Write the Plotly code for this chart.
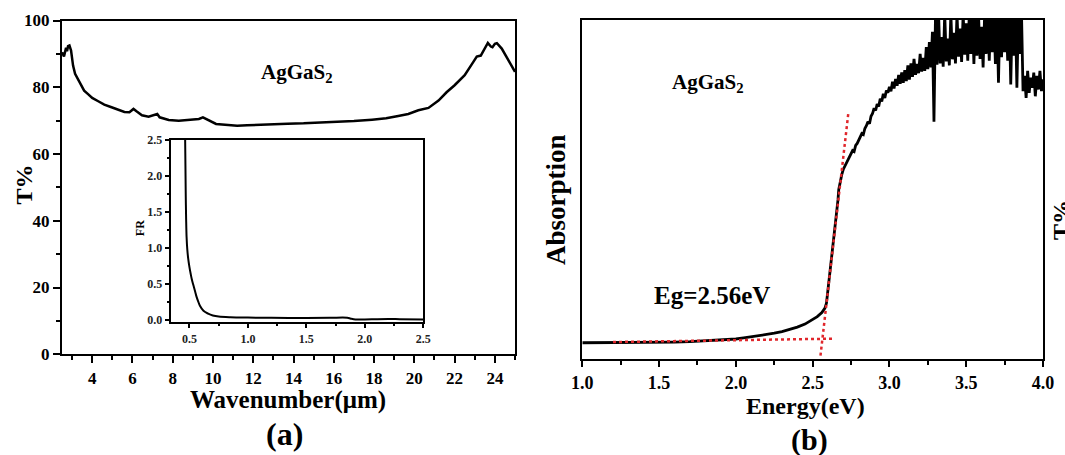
import plotly.graph_objects as go

FONT = "Liberation Serif, Times New Roman, serif"

# ---------------- Panel (a): transmittance ----------------
wavenumber = [2.5, 2.6, 2.7, 2.75, 2.8, 2.87, 2.95, 3.05, 3.15, 3.28, 3.45, 3.6, 3.78, 4.0,
              4.3, 4.6, 4.96, 5.3, 5.6, 5.85, 6.05, 6.2, 6.47, 6.8, 7.0, 7.23, 7.35, 7.8,
              8.3, 8.8, 9.3, 9.5, 9.8, 10.15, 10.6, 11.2, 11.7, 12.3, 13.0, 13.7, 14.5,
              15.3, 16.2, 17.0, 17.9, 18.6, 19.2, 19.7, 20.2, 20.7, 21.2, 21.6, 22.0,
              22.5, 22.93, 23.1, 23.3, 23.5, 23.65, 23.8, 23.88, 24.0, 24.1, 24.34,
              24.59, 24.8, 25.0]
transmittance = [90.5, 89.2, 91.8, 90.8, 92.3, 92.5, 91.0, 86.5, 84.0, 82.5, 80.5, 79.0,
                 78.0, 76.8, 75.8, 74.8, 74.0, 73.2, 72.6, 72.5, 73.5, 72.8, 71.6, 71.2,
                 71.5, 72.0, 71.0, 70.2, 70.0, 70.2, 70.5, 71.0, 70.0, 69.0, 68.8, 68.5,
                 68.6, 68.8, 69.0, 69.1, 69.2, 69.4, 69.6, 69.9, 70.3, 70.7, 71.4, 72.0,
                 73.1, 73.8, 76.0, 78.5, 80.6, 83.6, 87.6, 89.2, 89.5, 91.5, 93.3, 92.2,
                 92.0, 93.0, 93.2, 91.6, 89.1, 87.0, 84.6]

# inset: FR
inset_x = [0.463, 0.465, 0.467, 0.469, 0.472, 0.476, 0.482, 0.49, 0.50, 0.51, 0.52, 0.535,
           0.55, 0.56, 0.575, 0.59, 0.62, 0.66, 0.70, 0.75, 0.85, 1.0, 1.2, 1.5, 1.7, 1.85,
           1.88, 1.92, 2.0, 2.2, 2.3, 2.5]
inset_fr = [2.6, 2.3, 2.0, 1.7, 1.4, 1.15, 0.98, 0.85, 0.74, 0.65, 0.57, 0.48, 0.39, 0.33,
            0.26, 0.2, 0.13, 0.09, 0.065, 0.05, 0.04, 0.035, 0.032, 0.03, 0.032, 0.033,
            0.02, 0.008, 0.01, 0.015, 0.013, 0.01]

# ---------------- Panel (b): absorption ----------------
energy = [1.00, 1.10, 1.20, 1.30, 1.40, 1.50, 1.60, 1.70, 1.80, 1.90, 2.00, 2.05, 2.10,
          2.15, 2.20, 2.25, 2.30, 2.35, 2.40, 2.45, 2.50, 2.53, 2.56, 2.58, 2.59, 2.60,
          2.61, 2.62, 2.63, 2.64, 2.65, 2.66, 2.665, 2.67, 2.68, 2.69,
          2.70, 2.71, 2.72, 2.73, 2.74, 2.75, 2.76, 2.77, 2.78, 2.79,
          2.80, 2.81, 2.82, 2.83, 2.84, 2.85, 2.86, 2.87, 2.88, 2.89,
          2.90, 2.91, 2.92, 2.93, 2.94, 2.95, 2.96, 2.97, 2.98, 2.99,
          3.00, 3.01, 3.02, 3.03, 3.04, 3.05, 3.06, 3.07, 3.08, 3.09,
          3.10, 3.11, 3.12, 3.13, 3.14, 3.15, 3.16, 3.17, 3.18, 3.19,
          3.20, 3.21, 3.22, 3.23, 3.24, 3.25, 3.26, 3.27, 3.28, 3.29,
          3.30, 3.31, 3.32, 3.33, 3.34, 3.35, 3.36, 3.37, 3.38, 3.39,
          3.40, 3.41, 3.42, 3.43, 3.44, 3.45, 3.46, 3.47, 3.48, 3.49,
          3.50, 3.51, 3.52, 3.53, 3.54, 3.55, 3.56, 3.57, 3.58, 3.59,
          3.60, 3.61, 3.62, 3.63, 3.64, 3.65, 3.66, 3.67, 3.68, 3.69,
          3.70, 3.71, 3.72, 3.73, 3.74, 3.75, 3.76, 3.77, 3.78, 3.79,
          3.80, 3.81, 3.82, 3.83, 3.84, 3.85, 3.86, 3.87, 3.88, 3.89,
          3.90, 3.91, 3.92, 3.93, 3.94, 3.95, 3.96, 3.97, 3.98, 3.99, 4.00]
absorption = [0.048, 0.048, 0.048, 0.048, 0.049, 0.049, 0.050, 0.051, 0.053, 0.056, 0.059,
              0.062, 0.065, 0.068, 0.072, 0.076, 0.081, 0.087, 0.094, 0.103, 0.116, 0.125,
              0.137, 0.150, 0.165, 0.203, 0.243, 0.282, 0.322, 0.361, 0.400, 0.440, 0.470,
              0.500, 0.525, 0.545,
              0.560, 0.570, 0.578, 0.590, 0.596, 0.606, 0.615, 0.612, 0.630, 0.636,
              0.645, 0.652, 0.665, 0.662, 0.680, 0.688, 0.700, 0.694, 0.716, 0.724,
              0.740, 0.733, 0.752, 0.745, 0.768, 0.760, 0.782, 0.770, 0.792, 0.786,
              0.803, 0.790, 0.818, 0.798, 0.826, 0.806, 0.838, 0.812, 0.845, 0.815,
              0.852, 0.820, 0.866, 0.824, 0.872, 0.832, 0.885, 0.838, 0.870, 0.843,
              0.900, 0.848, 0.888, 0.850, 0.920, 0.855, 0.935, 0.860, 0.965, 0.700,
              1.020, 0.868, 1.020, 0.872, 0.950, 0.862, 1.020, 0.878, 0.945, 0.866,
              1.020, 0.884, 0.962, 0.872, 1.020, 0.892, 0.975, 0.876, 1.020, 0.898,
              0.990, 0.880, 1.020, 0.900, 1.020, 0.870, 1.020, 0.895, 1.020, 0.885,
              0.980, 0.860, 1.020, 0.900, 1.020, 0.880, 1.020, 0.905, 1.020, 0.870,
              1.020, 0.815, 1.020, 0.890, 1.020, 0.905, 1.020, 0.880, 1.020, 0.810,
              1.020, 0.895, 1.020, 0.800, 1.020, 0.900, 1.020, 0.790, 0.835, 0.770,
              0.850, 0.785, 0.830, 0.800, 0.845, 0.775, 0.835, 0.795, 0.850, 0.790, 0.825]

# red dotted construction lines (baseline and tangent)
baseline_x = [1.2, 2.645]
baseline_y = [0.050, 0.060]
tangent_x = [2.551, 2.733]
tangent_y = [0.010, 0.728]

RED = "#e0262b"

fig = go.Figure()
fig.add_trace(go.Scatter(x=wavenumber, y=transmittance, mode="lines",
                         line=dict(color="black", width=2.5), xaxis="x", yaxis="y"))
fig.add_trace(go.Scatter(x=inset_x, y=inset_fr, mode="lines", line_shape="spline",
                         line=dict(color="black", width=2), xaxis="x3", yaxis="y3"))
fig.add_trace(go.Scatter(x=energy, y=absorption, mode="lines",
                         line=dict(color="black", width=2.8), xaxis="x2", yaxis="y2"))
fig.add_trace(go.Scatter(x=baseline_x, y=baseline_y, mode="lines",
                         line=dict(color=RED, width=2.5, dash="dot"), xaxis="x2", yaxis="y2"))
fig.add_trace(go.Scatter(x=tangent_x, y=tangent_y, mode="lines",
                         line=dict(color=RED, width=2.5, dash="dot"), xaxis="x2", yaxis="y2"))


def axis(**kw):
    base = dict(showline=True, linewidth=2, linecolor="black", mirror=True,
                showgrid=False, zeroline=False, ticks="outside", tickwidth=2,
                tickcolor="black", ticklen=7,
                tickfont=dict(family=FONT, size=17, color="black", weight="bold"))
    base.update(kw)
    return base


def minor_main(d):
    return dict(ticks="outside", ticklen=4, tickwidth=2, tickcolor="black",
                dtick=d, showgrid=False)


fig.update_layout(
    width=1065, height=455,
    margin=dict(l=62, r=22, t=20, b=96),
    paper_bgcolor="white", plot_bgcolor="white",
    showlegend=False,
    font=dict(family=FONT, color="black"),
    xaxis=axis(domain=[0, 0.4618], range=[2.5, 25], tick0=0, dtick=2,
               minor=minor_main(1), anchor="y"),
    yaxis=axis(domain=[0.0139, 0.9985], range=[0, 100], tick0=0, dtick=20,
               minor=minor_main(10), anchor="x"),
    xaxis2=axis(domain=[0.5304, 1], range=[1, 4], tick0=1, dtick=0.5, tickformat=".1f",
                minor=minor_main(0.25), anchor="y2", ticklen=6,
                tickfont=dict(family=FONT, size=18, color="black", weight="bold")),
    yaxis2=axis(domain=[0, 1], range=[0, 1], ticks="", showticklabels=False, anchor="x2"),
    xaxis3=axis(domain=[0.1108, 0.3683], range=[0.34, 2.5], tick0=0, dtick=0.5,
                tickformat=".1f", ticklen=4, tickwidth=1.5, linewidth=2, anchor="y3",
                minor=dict(ticks="outside", ticklen=2, tickwidth=1.5, tickcolor="black", dtick=0.25),
                tickfont=dict(family=FONT, size=12, color="#222", weight="bold")),
    yaxis3=axis(domain=[0.1083, 0.646], range=[-0.03, 2.5], tick0=0, dtick=0.5,
                tickformat=".1f", ticklen=4, tickwidth=1.5, linewidth=2, anchor="x3",
                minor=dict(ticks="outside", ticklen=2, tickwidth=1.5, tickcolor="black", dtick=0.25),
                tickfont=dict(family=FONT, size=12, color="#222", weight="bold")),
)


def note(text, x, y, size, angle=0):
    fig.add_annotation(text=text, x=x, y=y, xref="paper", yref="paper",
                       xanchor="center", yanchor="middle", showarrow=False,
                       textangle=angle,
                       font=dict(family=FONT, size=size, color="black", weight="bold"))


note("T%", -0.0387, 0.515, 24, -90)
note("Absorption", 0.5036, 0.469, 27, -90)
note("Wavenumber(μm)", 0.2299, -0.121, 25)
note("(a)", 0.2263, -0.22, 32)
note("Energy(eV)", 0.7574, -0.1386, 24)
note("(b)", 0.7615, -0.239, 30)
note("AgGaS<sub>2</sub>", 0.2396, 0.8437, 21)
note("AgGaS<sub>2</sub>", 0.6585, 0.814, 21)
note("Eg=2.56eV", 0.6626, 0.186, 25)
note("FR", 0.0795, 0.386, 12, -90)
note("T%", 1.0183, 0.41, 24, -90)

fig.write_html(
    "out.html",
    config={"displayModeBar": False},
    post_script="document.body.style.margin='0';document.body.style.overflow='hidden';",
)
